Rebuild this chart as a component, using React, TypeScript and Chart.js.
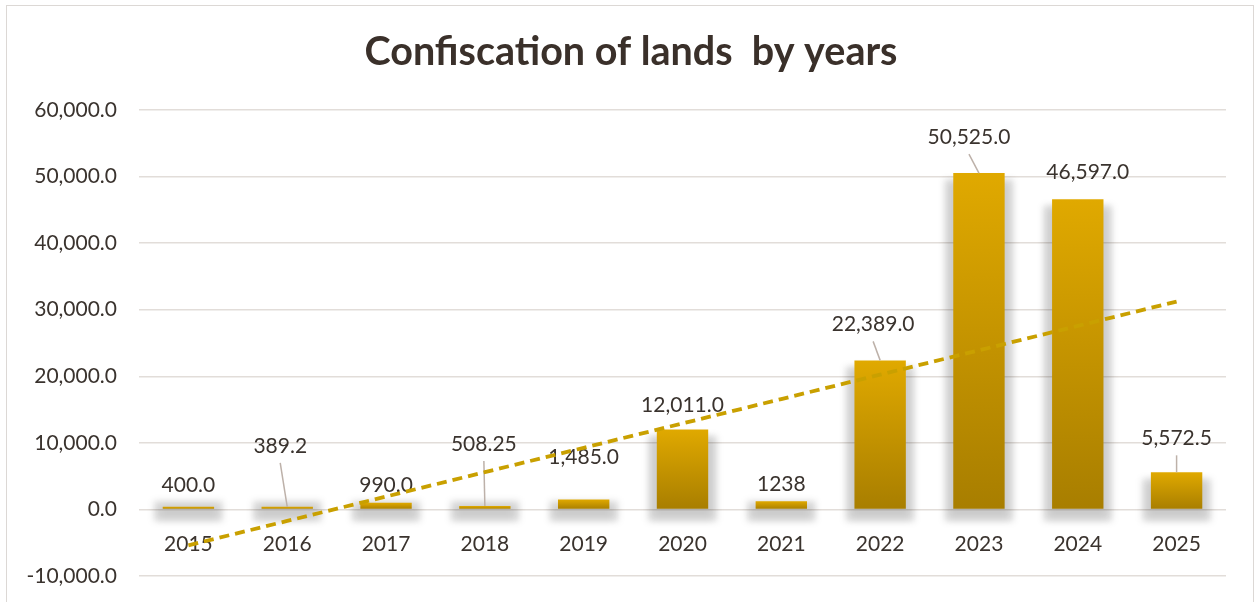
import React, { useEffect, useRef } from "react";
import { Chart, registerables } from "chart.js";

Chart.register(...registerables);

const years = ["2015", "2016", "2017", "2018", "2019", "2020", "2021", "2022", "2023", "2024", "2025"];
const values = [400, 389.2, 990, 508.25, 1485, 12011, 1238, 22389, 50525, 46597, 5572.5];
const valueLabels = ["400.0", "389.2", "990.0", "508.25", "1,485.0", "12,011.0", "1238", "22,389.0", "50,525.0", "46,597.0", "5,572.5"];
const yMin = -10000;
const yMax = 60000;
const yStep = 10000;
const titleText = "Confiscation of lands  by years";

// label placement relative to bar top: [dx, dy, leader line]
const labelOffsets: [number, number, boolean][] = [
  [0, -22, false],
  [-7, -61, true],
  [0, -18, false],
  [-1, -62, true],
  [0, -42, false],
  [0, -24, false],
  [0, -17, false],
  [-7, -36, true],
  [-10, -36, true],
  [10, -27, false],
  [0, -34, true],
];

// least-squares linear trend of the series (as Excel's linear trendline)
function linearTrend(ys: number[]): number[] {
  const n = ys.length;
  const mx = (n - 1) / 2;
  const my = ys.reduce((a, b) => a + b, 0) / n;
  let sxy = 0;
  let sxx = 0;
  ys.forEach((y, i) => {
    sxy += (i - mx) * (y - my);
    sxx += (i - mx) * (i - mx);
  });
  const slope = sxy / sxx;
  return ys.map((_, i) => my + slope * (i - mx));
}

const TEXT = "#3a332e";
const FONT = "Lato";
const FS = 21;

const titlePlugin = {
  id: "frameTitle",
  afterDraw(chart: any) {
    const ctx = chart.ctx;
    ctx.save();
    ctx.font = `bold 39.5px ${FONT}`;
    ctx.fillStyle = "#3a302a";
    ctx.textAlign = "center";
    ctx.textBaseline = "middle";
    ctx.fillText(titleText, 631, 52.5);
    ctx.restore();
  },
};

const shadowPlugin = {
  id: "barShadow",
  beforeDatasetDraw(chart: any, args: any) {
    if (args.index !== 0) return;
    const ctx = chart.ctx;
    const meta = chart.getDatasetMeta(0);
    ctx.save();
    ctx.filter = "blur(3px)";
    ctx.fillStyle = "rgba(0,0,0,0.12)";
    meta.data.forEach((el: any) => {
      const { x, y, base, width } = el.getProps(["x", "y", "base", "width"], true);
      const top = Math.min(y + 6, base - 8);
      ctx.fillRect(x - width / 2 - 9, top, width + 18, base + 13 - top);
    });
    ctx.filter = "blur(5px)";
    ctx.fillStyle = "rgba(0,0,0,0.1)";
    meta.data.forEach((el: any) => {
      const { x, y, base, width } = el.getProps(["x", "y", "base", "width"], true);
      const top = Math.min(y + 8, base - 4);
      ctx.fillRect(x - width / 2 - 5, top, width + 10, base + 10 - top);
    });
    ctx.restore();
  },
};

const labelPlugin = {
  id: "barLabels",
  afterDatasetDraw(chart: any, args: any) {
    if (args.index !== 0) return;
    const ctx = chart.ctx;
    const meta = chart.getDatasetMeta(0);
    ctx.save();
    ctx.font = `${FS}px ${FONT}`;
    ctx.fillStyle = TEXT;
    ctx.textAlign = "center";
    ctx.textBaseline = "middle";
    meta.data.forEach((el: any, i: number) => {
      const { x, y } = el.getProps(["x", "y"], true);
      const [dx, dy, leader] = labelOffsets[i];
      const lx = x + dx;
      const ly = y + dy;
      if (leader) {
        ctx.strokeStyle = "#bdb1a9";
        ctx.lineWidth = 1.5;
        ctx.beginPath();
        ctx.moveTo(lx, ly + 17);
        ctx.lineTo(x, y);
        ctx.stroke();
      }
      ctx.fillText(valueLabels[i], lx, ly);
    });
    ctx.restore();
  },
};

export default function App() {
  const ref = useRef<HTMLCanvasElement | null>(null);

  useEffect(() => {
    if (!ref.current) return;
    const trend = linearTrend(values);
    const chart = new Chart(ref.current, {
      type: "bar",
      data: {
        labels: years,
        datasets: [
          {
            type: "bar",
            data: values,
            order: 1,
            barPercentage: 0.52,
            categoryPercentage: 1,
            backgroundColor: (c: any) => {
              const ch = c.chart;
              const ys = ch.scales && ch.scales.y;
              const v = values[c.dataIndex];
              if (!ys || v === undefined) return "#d09e00";
              const top = ys.getPixelForValue(v);
              const bot = ys.getPixelForValue(0);
              if (!isFinite(top) || !isFinite(bot) || top === bot) return "#d09e00";
              const g = ch.ctx.createLinearGradient(0, top, 0, bot);
              g.addColorStop(0, "#e0a900");
              g.addColorStop(1, "#a87e00");
              return g;
            },
          } as any,
          {
            type: "line",
            data: trend,
            order: 0,
            borderColor: "#c9a000",
            borderWidth: 3.8,
            borderDash: [10, 6],
            pointRadius: 0,
            fill: false,
            tension: 0,
          } as any,
        ],
      },
      options: {
        animation: false,
        responsive: false,
        maintainAspectRatio: false,
        events: [],
        layout: { padding: { left: 0, right: 29, top: 110, bottom: 26 } },
        plugins: {
          legend: { display: false },
          tooltip: { enabled: false },
          title: { display: false },
        },
        scales: {
          x: {
            position: { y: 0 } as any,
            afterFit: (s: any) => {
              s.height = 0;
            },
            grid: { display: false, drawTicks: false },
            border: { display: false },
            ticks: {
              color: TEXT,
              font: { family: FONT, size: FS },
              padding: 22,
              maxRotation: 0,
              autoSkip: false,
            },
          },
          y: {
            min: yMin,
            max: yMax,
            afterFit: (s: any) => {
              s.width = 139;
              s.paddingTop = 0;
              s.paddingBottom = 0;
            },
            grid: { color: "#e2ddd9", lineWidth: 1.5, drawTicks: false },
            border: { display: false },
            ticks: {
              stepSize: yStep,
              color: TEXT,
              font: { family: FONT, size: FS },
              padding: 22,
              callback: (v: any) =>
                Number(v).toLocaleString("en-US", { minimumFractionDigits: 1, maximumFractionDigits: 1 }),
            },
          },
        },
      },
      plugins: [shadowPlugin, labelPlugin, titlePlugin],
    });
    return () => chart.destroy();
  }, []);

  return (
    <div style={{ position: "absolute", left: 0, top: 0, width: 1255, height: 602, background: "#fff", overflow: "hidden" }}>
      <div
        style={{
          position: "absolute",
          left: 6,
          top: 5,
          width: 1248,
          height: 620,
          border: "1.5px solid #dcd8d5",
          boxSizing: "border-box",
        }}
      />
      <canvas ref={ref} width={1255} height={602} style={{ position: "absolute", left: 0, top: 0, width: 1255, height: 602 }} />
    </div>
  );
}
